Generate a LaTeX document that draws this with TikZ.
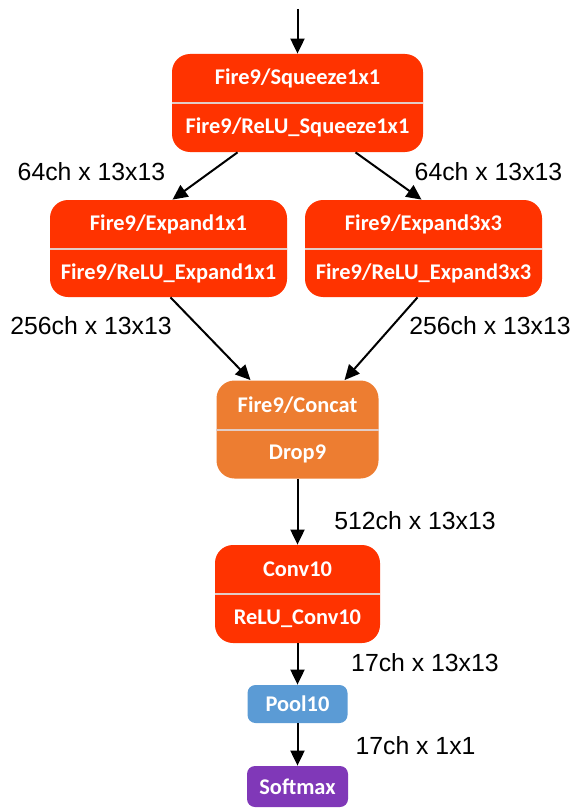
\documentclass[tikz,border=0pt]{standalone}
\usepackage{fontspec}
\setmainfont{Liberation Sans}
\newfontfamily\boxfont{Carlito}
\usetikzlibrary{arrows.meta}

\definecolor{firered}{RGB}{255,51,0}
\definecolor{concatorange}{RGB}{237,125,49}
\definecolor{poolblue}{RGB}{91,155,213}
\definecolor{softpurple}{RGB}{128,56,184}
\definecolor{divider}{RGB}{226,204,198}

\begin{document}
\begin{tikzpicture}[x=0.5pt, y=-0.5pt, >={Triangle[length=7.5pt,width=7pt]},
	layer/.style={rounded corners=9pt, fill=firered, inner sep=0pt},
	txt/.style={font=\boxfont\bfseries\fontsize{11.2}{13}\selectfont, text=white, inner sep=0pt},
	lab/.style={font=\fontsize{12.4}{14}\selectfont, inner sep=0pt},
	split/.style={draw=divider, line width=1pt},
	flow/.style={->, line width=1pt}]
	\useasboundingbox (0,0) rectangle (572,808);
	% layer boxes
	\node[layer, minimum width=125.5pt, minimum height=49pt] (sq) at (297.5,103) {};
	\node[layer, minimum width=118.5pt, minimum height=48.5pt] (ex1) at (168.5,248.5) {};
	\node[layer, minimum width=118.5pt, minimum height=48.5pt] (ex3) at (423.5,248.5) {};
	\node[layer, fill=concatorange, minimum width=81pt, minimum height=49pt] (cat) at (297.5,429.5) {};
	\node[layer, minimum width=82.5pt, minimum height=49pt] (conv) at (297.5,594) {};
	\node[layer, fill=poolblue, rounded corners=4pt, minimum width=50pt, minimum height=19pt] (pool) at (297.5,704) {};
	\node[layer, fill=softpurple, rounded corners=4pt, minimum width=50.5pt, minimum height=20.5pt] (soft) at (297.5,786.5) {};
	\foreach \n in {sq,ex1,ex3,cat,conv} {\draw[split] (\n.west) -- (\n.east);}
	% texts in the boxes
	\node[txt] (sqa) at ([yshift=12.25pt]sq.center) {Fire9/Squeeze1x1};
	\node[txt] (sqb) at ([yshift=-12.25pt]sq.center) {Fire9/ReLU\_Squeeze1x1};
	\node[txt] (ex1a) at ([yshift=12.25pt]ex1.center) {Fire9/Expand1x1};
	\node[txt] (ex1b) at ([yshift=-12.25pt]ex1.center) {Fire9/ReLU\_Expand1x1};
	\node[txt] (ex3a) at ([yshift=12.25pt]ex3.center) {Fire9/Expand3x3};
	\node[txt] (ex3b) at ([yshift=-12.25pt]ex3.center) {Fire9/ReLU\_Expand3x3};
	\node[txt] (cata) at ([yshift=12.25pt]cat.center) {Fire9/Concat};
	\node[txt] (catb) at ([yshift=-12.25pt]cat.center) {Drop9};
	\node[txt] (conva) at ([yshift=12.25pt]conv.center) {Conv10};
	\node[txt] (convb) at ([yshift=-12.25pt]conv.center) {ReLU\_Conv10};
	\node[txt] (poola) at (pool.center) {Pool10};
	\node[txt] (softa) at (soft.center) {Softmax};
	% blob sizes
	\node[lab] (l1) at (91.5,172) {64ch x 13x13};
	\node[lab] (l2) at (488.5,172) {64ch x 13x13};
	\node[lab] (l3) at (91,326) {256ch x 13x13};
	\node[lab] (l4) at (490,326) {256ch x 13x13};
	\node[lab] (l5) at (415,521) {512ch x 13x13};
	\node[lab] (l6) at (425,663) {17ch x 13x13};
	\node[lab] (l7) at (415.5,746) {17ch x 1x1};
	% connections
	\coordinate (in) at (297.5,9);
	\draw[flow] (in) -- (sq.north);
	\draw[flow] ([xshift=-30pt]sq.south) -- ([xshift=2pt]ex1.north);
	\draw[flow] ([xshift=29pt]sq.south) -- ([xshift=-1pt]ex3.north);
	\draw[flow] ([xshift=1pt]ex1.south) -- ([xshift=-23.5pt]cat.north);
	\draw[flow] ([xshift=-3pt]ex3.south) -- ([xshift=23.5pt]cat.north);
	\draw[flow] (cat) -- (conv);
	\draw[flow] (conv) -- (pool);
	\draw[flow] (pool) -- (soft);
\end{tikzpicture}
\end{document}
